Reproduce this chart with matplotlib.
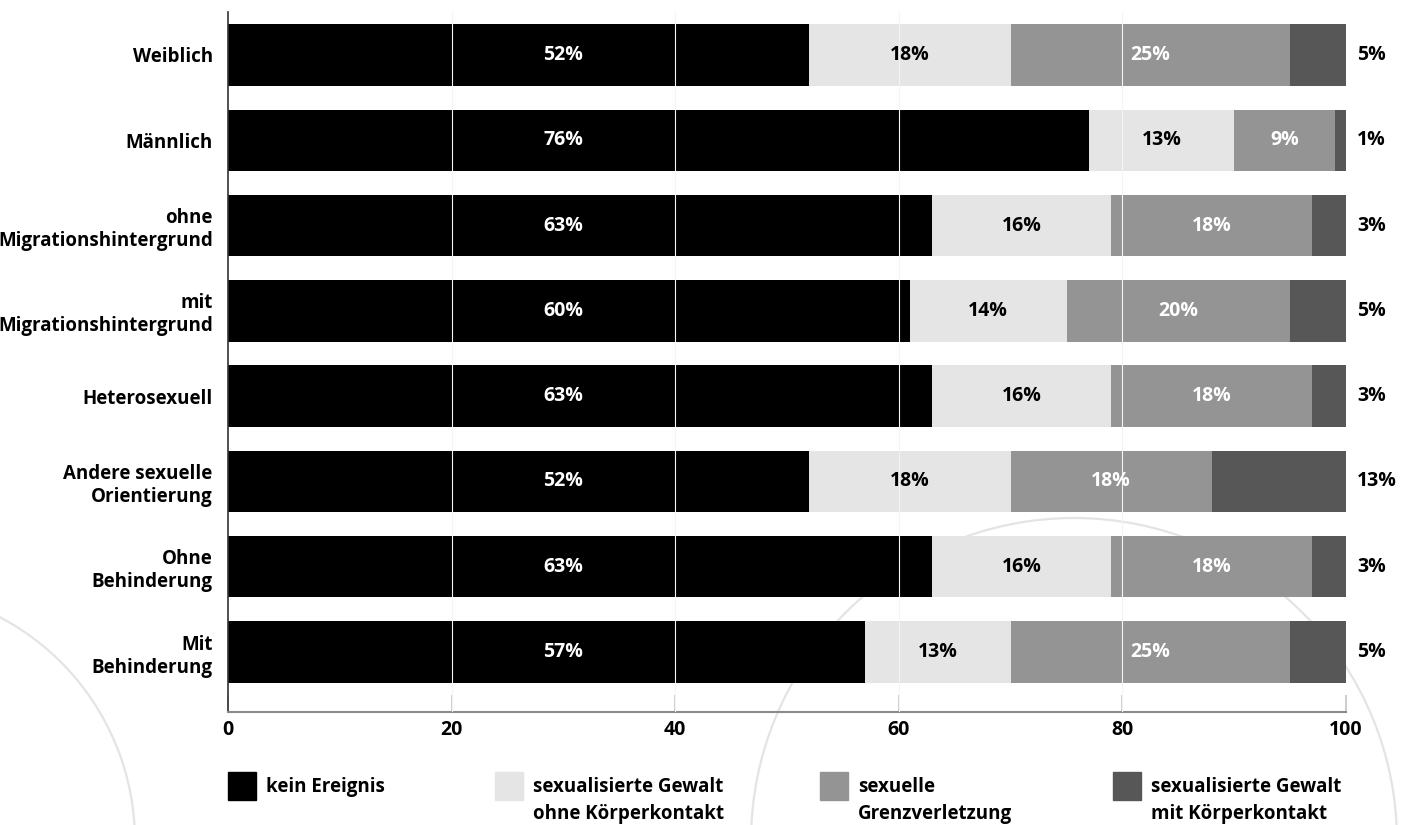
import matplotlib
matplotlib.use('Agg')
import matplotlib.pyplot as plt
from matplotlib.patches import Circle, Rectangle

# categories (top to bottom)
categories = ['Weiblich', 'Männlich', 'ohne\nMigrationshintergrund', 'mit\nMigrationshintergrund',
              'Heterosexuell', 'Andere sexuelle\nOrientierung', 'Ohne\nBehinderung', 'Mit\nBehinderung']

series_names = ['kein Ereignis', 'sexualisierte Gewalt\nohne Körperkontakt',
                'sexuelle\nGrenzverletzung', 'sexualisierte Gewalt\nmit Körperkontakt']

# segment lengths as drawn
kein = [52, 77, 63, 61, 63, 52, 63, 57]
ohne_kontakt = [18, 13, 16, 14, 16, 18, 16, 13]
grenz = [25, 9, 18, 20, 18, 18, 18, 25]
mit_kontakt = [5, 1, 3, 5, 3, 12, 3, 5]

# printed labels
kein_lbl = ['52%', '76%', '63%', '60%', '63%', '52%', '63%', '57%']
ohne_kontakt_lbl = ['18%', '13%', '16%', '14%', '16%', '18%', '16%', '13%']
grenz_lbl = ['25%', '9%', '18%', '20%', '18%', '18%', '18%', '25%']
mit_kontakt_lbl = ['5%', '1%', '3%', '5%', '3%', '13%', '3%', '5%']

xticks = [0, 20, 40, 60, 80, 100]

colors = ['#000000', '#e5e5e5', '#949494', '#575757']
text_colors = ['white', 'black', 'white', 'black']

plt.rcParams['font.family'] = ['Open Sans', 'DejaVu Sans']
plt.rcParams['font.weight'] = 'bold'
FS = 13.5
FS_PCT = 14

fig = plt.figure(figsize=(14.11, 8.25), dpi=100)

# decorative circles in the background
bg = fig.add_axes([0, 0, 1, 1], zorder=-1)
bg.set_xlim(0, 1411)
bg.set_ylim(825, 0)
bg.axis('off')
bg.add_patch(Circle((1074, 841), 323, fill=False, ec='#e4e4e4', lw=1.6))
bg.add_patch(Circle((-118, 841), 253, fill=False, ec='#e4e4e4', lw=1.6))

ax = fig.add_axes([228 / 1411, 1 - 712 / 825, 1118 / 1411, 700 / 825])
ax.patch.set_alpha(0)

y = list(range(len(categories)))
segments = [kein, ohne_kontakt, grenz, mit_kontakt]
labels = [kein_lbl, ohne_kontakt_lbl, grenz_lbl, mit_kontakt_lbl]

left = [0] * len(categories)
for s, (vals, lbls) in enumerate(zip(segments, labels)):
    ax.barh(y, vals, left=left, height=0.72, color=colors[s], zorder=2)
    for i, (v, l) in enumerate(zip(vals, lbls)):
        if s == 0:
            ax.text(30, i, l, ha='center', va='center', color=text_colors[s], fontsize=FS_PCT, zorder=3)
        elif s == 3:
            ax.text(101, i, l, ha='left', va='center', color='black', fontsize=FS_PCT, zorder=3, clip_on=False)
        else:
            ax.text(left[i] + v / 2, i, l, ha='center', va='center', color=text_colors[s],
                    fontsize=FS_PCT, zorder=3)
    left = [a + b for a, b in zip(left, vals)]

# white grid lines drawn over the bars
for xv in xticks[1:-1]:
    ax.axvline(xv, color='#f4f4f4', lw=0.8, zorder=5)

ax.set_xlim(0, 100)
ax.set_ylim(7.703, -0.504)
ax.set_xticks(xticks)
ax.set_xticklabels([str(t) for t in xticks], fontsize=FS_PCT)
ax.set_yticks(y)
ax.set_yticklabels(categories, fontsize=FS, multialignment='right')
ax.tick_params(axis='x', direction='in', length=12, width=1.2, color='#c4c4c4', pad=6)
ax.tick_params(axis='y', length=0, pad=11)
for sp in ['top', 'right']:
    ax.spines[sp].set_visible(False)
ax.spines['left'].set_color('#333333')
ax.spines['left'].set_linewidth(1.2)
ax.spines['bottom'].set_color('#8a8a8a')
ax.spines['bottom'].set_linewidth(1.5)

# legend
leg_x = [228, 495, 820, 1113]
for x0, name, c in zip(leg_x, series_names, colors):
    fig.patches.append(Rectangle((x0 / 1411, 1 - 800 / 825), 28 / 1411, 28 / 825,
                                 transform=fig.transFigure, color=c, figure=fig))
    fig.text((x0 + 38) / 1411, 1 - 777 / 825, name, ha='left', va='top', fontsize=FS,
             linespacing=1.45)

fig.savefig('out.png', dpi=100)
